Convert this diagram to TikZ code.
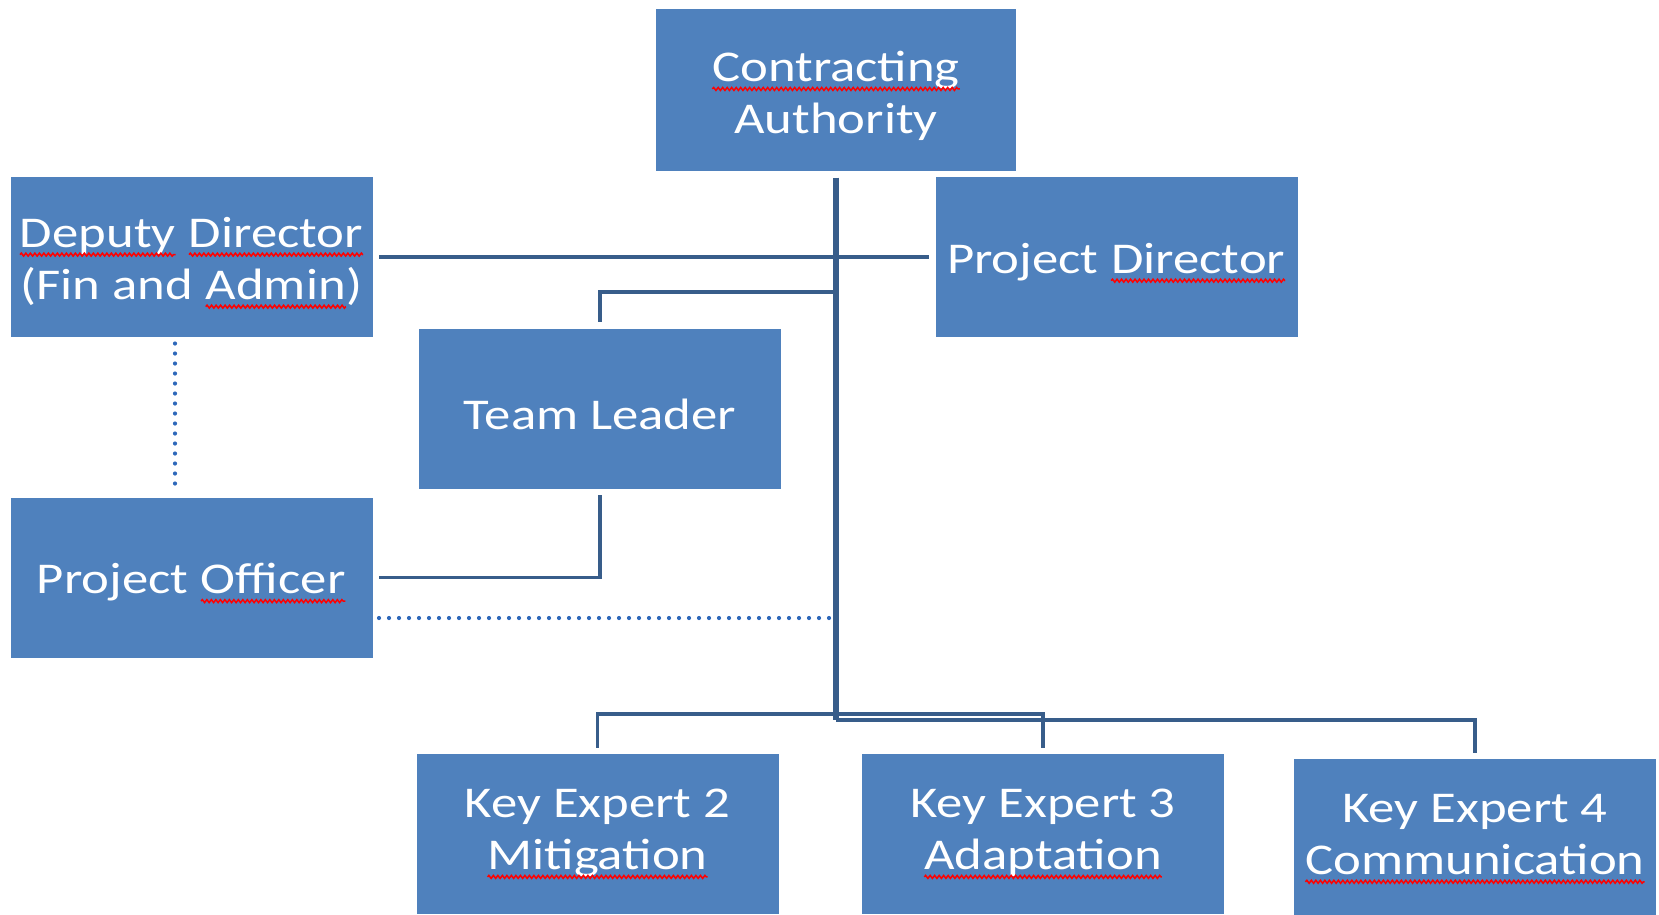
\documentclass[tikz,border=0pt]{standalone}
\usepackage{fontspec}
\setmainfont{Carlito}[FakeStretch=1.2]
\usetikzlibrary{positioning,calc,decorations.pathmorphing}
\definecolor{boxblue}{RGB}{79,129,189}
\definecolor{lineblue}{RGB}{56,93,138}
\definecolor{dotblue}{RGB}{46,104,186}
\tikzstyle{box} = [rectangle, fill=boxblue, text=white, minimum width=36.2mm, minimum height=16mm, inner sep=0pt, outer sep=0.65mm, align=center, font=\fontsize{12.5}{14.8}\selectfont, execute at begin node={\rule{0pt}{4.2mm}}]
\tikzstyle{word} = [rectangle, fill=none, draw=none, minimum width=0pt, minimum height=0pt, inner sep=0pt, outer sep=0pt]
\tikzstyle{conn} = [draw=lineblue, line width=0.35mm]
\tikzstyle{trunk} = [draw=lineblue, line width=0.55mm]
\tikzstyle{dotline} = [draw=dotblue, line width=0.42mm, line cap=round, dash pattern=on 0pt off 1mm]
\tikzstyle{squiggle} = [red, line width=0.15mm, decorate, decoration={snake, amplitude=0.15mm, segment length=0.45mm}]
\newcommand{\spell}[1]{\tikz[baseline=(w.base),x=1cm,y=1cm]{\node[word] (w) {#1}; \draw[squiggle] ([yshift=-0.75mm]w.base west) -- ([yshift=-0.75mm]w.base east);}}

\begin{document}
\begin{tikzpicture}[x=0.1mm,y=-0.1mm]
\useasboundingbox (0,0) rectangle (1659,914);
\draw (836,90) node (ca) [box, minimum width=36mm, minimum height=16.2mm] {\spell{Contracting}\\Authority};
\draw (191.5,257) node (dd) [box] {\spell{Deputy} \spell{Director}\\(Fin and \spell{Admin})};
\draw (1116.5,257) node (pd) [box] {Project \spell{Director}};
\draw (600,408.5) node (tl) [box] {Team Leader};
\draw (191.5,577.5) node (po) [box] {Project \spell{Officer}};
\draw (597.5,834) node (ke2) [box] {Key Expert 2\\\spell{Mitigation}};
\draw (1043,834) node (ke3) [box] {Key Expert 3\\\spell{Adaptation}};
\draw (1475,839) node (ke4) [box] {Key Expert 4\\\spell{Communication}};
% junctions on the trunk
\coordinate (tlj) at (836,292);
\coordinate (busa) at (836,714);
\coordinate (bus) at (836,720);
\coordinate (poj) at (829,618);
\draw[conn] (dd) -- (pd);
\draw[conn] (tlj) -| (tl);
\draw[conn] (tl) |- (po);
\draw[conn] (ke2) |- (busa) -| (ke3);
\draw[conn] (bus) -| (ke4);
\draw[trunk] (ca) -- (bus);
\draw[dotline] ([xshift=-1.65mm]dd.south) -- ([xshift=-1.65mm]po.north);
\draw[dotline] (po.east |- poj) -- (poj);
\end{tikzpicture}
\end{document}
